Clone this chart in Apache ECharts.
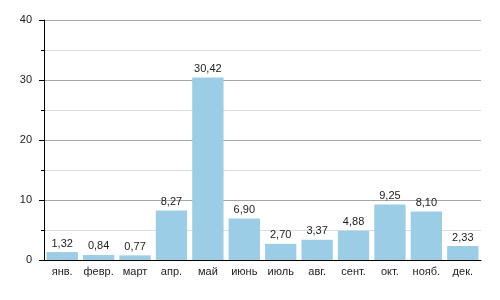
<!DOCTYPE html>
<html><head><meta charset="utf-8">
<script src="https://cdn.jsdelivr.net/npm/echarts@6/dist/echarts.min.js"></script>
<style>html,body{margin:0;padding:0;background:#fff}#c{width:500px;height:300px}</style>
</head><body><div id="c"></div>
<script>
const categories = ['янв.','февр.','март','апр.','май','июнь','июль','авг.','сент.','окт.','нояб.','дек.'];
const values = [1.32,0.84,0.77,8.27,30.42,6.90,2.70,3.37,4.88,9.25,8.10,2.33];
const yTicks = [0,10,20,30,40];

const chart = echarts.init(document.getElementById('c'), null, {renderer:'canvas'});
const font = 'Liberation Sans, Arial, sans-serif';
chart.setOption({
  animation:false,
  grid:{left:44,right:19,top:20,bottom:40,containLabel:false},
  xAxis:{type:'category',data:categories,
    axisLine:{lineStyle:{color:'#000',width:1}},
    axisTick:{show:false},
    axisLabel:{interval:0,color:'#222',fontSize:11,fontFamily:font,margin:6}},
  yAxis:{type:'value',min:yTicks[0],max:yTicks[yTicks.length-1],interval:10,
    axisLine:{show:true,lineStyle:{color:'#000'}},
    axisTick:{show:true,length:5,lineStyle:{color:'#000'}},
    minorTick:{show:true,splitNumber:2,length:3,lineStyle:{color:'#000'}},
    splitLine:{lineStyle:{color:'#a6a6a6'}},
    minorSplitLine:{show:true,lineStyle:{color:'#dcdcdc'}},
    axisLabel:{color:'#222',fontSize:11,fontFamily:font,margin:12}},
  series:[{type:'bar',data:values,barCategoryGap:'14%',
    itemStyle:{color:'#9ccde6'},
    label:{show:true,position:'top',distance:3,color:'#222',fontSize:11,fontFamily:font,
      formatter:p=>p.value.toFixed(2).replace('.',',')}}]
});
</script></body></html>
